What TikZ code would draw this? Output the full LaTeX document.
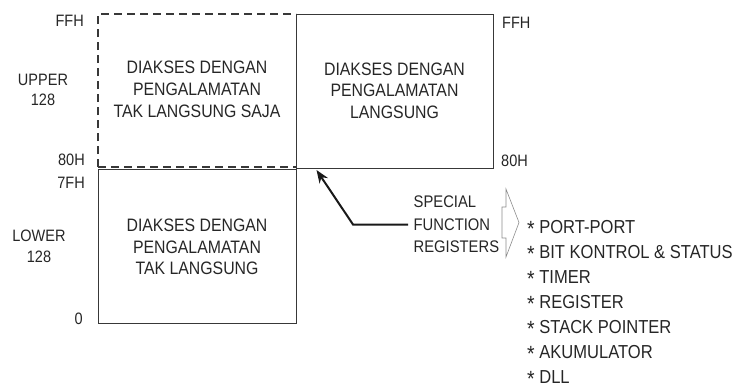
\documentclass[tikz,border=0pt]{standalone}
\usepackage{fontspec}
\setmainfont[FakeStretch=0.88]{Liberation Sans}
\usetikzlibrary{arrows.meta}
\newcommand{\myast}{\raisebox{-3.5pt}[0pt][0pt]{\fontsize{22}{22}\selectfont *}}
\begin{document}
\begin{tikzpicture}[x=1pt,y=-1pt,
  boxline/.style={draw=black!78,line width=1.1pt},
  memtext/.style={text=black!85,align=center,font=\fontsize{18}{21.7}\selectfont,inner sep=0pt},
  sidelabel/.style={text=black!85,align=center,font=\fontsize{16.5}{20.5}\selectfont,inner sep=0pt},
  listtext/.style={text=black!85,align=left,font=\fontsize{18.8}{25}\selectfont,inner sep=0pt},
  pointer/.style={draw=black!90,line width=2pt,-{Stealth[length=13pt,width=10pt]}},
  hollow/.style={draw=black!45,line width=0.6pt}
]
\useasboundingbox (0,0) rectangle (739,386);

% boxes
\draw[boxline,dash pattern=on 8pt off 5pt] (98,167) -- (98,14) -- (296,14);
\draw[boxline,dash pattern=on 8pt off 5pt] (98,167) -- (296,167);
\node[boxline,minimum width=197pt,minimum height=154pt,anchor=north west] (ur) at (296,14) {};
\node[boxline,minimum width=198pt,minimum height=154pt,anchor=north west] (low) at (98,169) {};

\node[memtext] (ultext) at (197,89.5) {DIAKSES DENGAN\\PENGALAMATAN\\TAK LANGSUNG SAJA};
\node[memtext] (urtext) at (394.5,90.7) {DIAKSES DENGAN\\PENGALAMATAN\\LANGSUNG};
\node[memtext] (lowtext) at (197,247) {DIAKSES DENGAN\\PENGALAMATAN\\TAK LANGSUNG};

% left labels
\node[sidelabel,anchor=east] (ffhl) at (84,21) {FFH};
\node[sidelabel,anchor=east] (h80l) at (85,160) {80H};
\node[sidelabel,anchor=east] (h7fl) at (85,182.5) {7FH};
\node[sidelabel,anchor=east] (zero) at (83,319) {0};
\node[sidelabel] (upper) at (43,90) {UPPER\\128};
\node[sidelabel] (lower) at (39,246.5) {LOWER\\128};

% right labels
\node[sidelabel,anchor=west] (ffhr) at (502,22.5) {FFH};
\node[sidelabel,anchor=west] (h80r) at (501,160.8) {80H};

% SFR
\node[memtext,align=left,font=\fontsize{16.8}{22.5}\selectfont,anchor=west] (sfr) at (413.5,224.5) {SPECIAL\\FUNCTION\\REGISTERS};
\coordinate (tip) at (316.5,170);
\draw[pointer] (sfr.west) ++(-5.5,0) coordinate (start) -- ++(-55,0) -- (tip);

% hollow arrow
\draw[hollow] (502,207) -- (506,207) -- (506,189) -- (519,222.5) -- (506,257) -- (506,238) -- (502,238) -- cycle;

% list
\node[listtext,anchor=west] (list) at (527,301.7) {\myast{} PORT-PORT\\\myast{} BIT KONTROL \& STATUS\\\myast{} TIMER\\\myast{} REGISTER\\\myast{} STACK POINTER\\\myast{} AKUMULATOR\\\myast{} DLL};
\end{tikzpicture}
\end{document}
